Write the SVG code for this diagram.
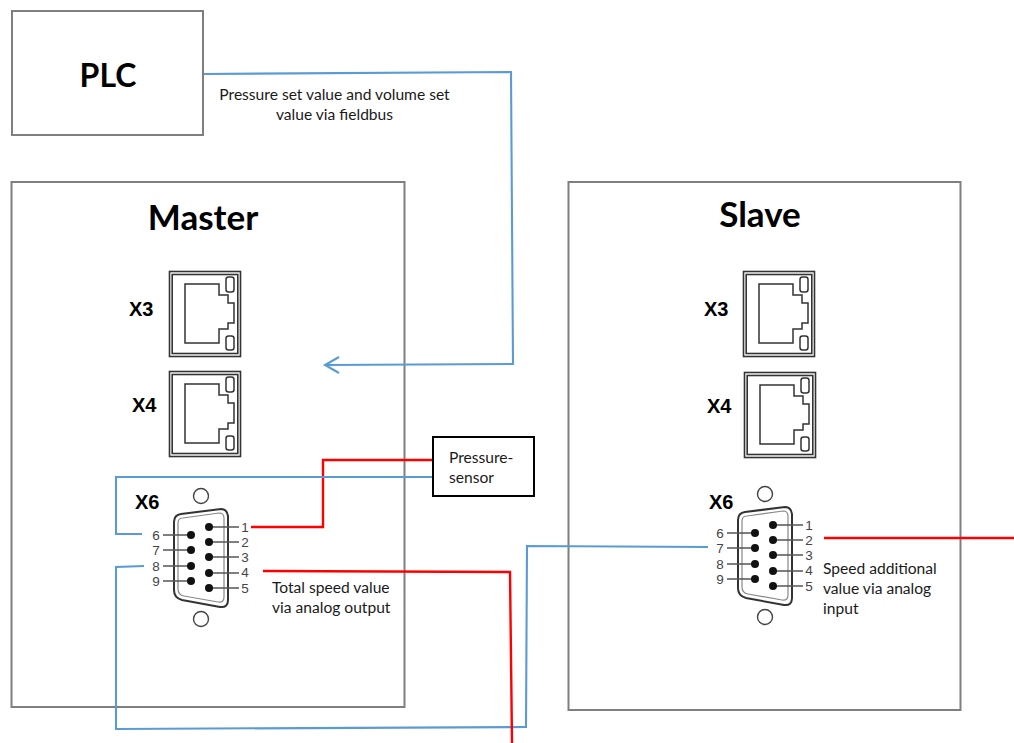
<svg xmlns="http://www.w3.org/2000/svg" width="1014" height="743" viewBox="0 0 1014 743">
<style>
.box{fill:#fff;stroke:#7f7f7f;stroke-width:2}
.sensor{fill:#fff;stroke:#000;stroke-width:2}
.blue{fill:none;stroke:#5b9bd5;stroke-width:2.1;stroke-linejoin:miter}
.red{fill:none;stroke:#f00;stroke-width:2.4}
.t{font-family:Lato,"Open Sans",sans-serif;font-size:15.6px;fill:#1a1a1a}
.b{font-family:Lato,"Open Sans",sans-serif;font-weight:700;fill:#000}
.l{font-family:"Liberation Sans",Arial,sans-serif;font-weight:700;font-size:20px;fill:#000}
.n{font-family:"Liberation Sans",Arial,sans-serif;font-size:13.500px;fill:#444;text-anchor:middle}
.jo{fill:none;stroke:#333;stroke-width:1.6}
.ji{fill:none;stroke:#333;stroke-width:1.5}
.sh{fill:none;stroke:#333;stroke-width:2}
.si{fill:none;stroke:#888;stroke-width:1.2}
.w{stroke:#555;stroke-width:1.3;fill:none}
.p{fill:#111}
.hole{fill:none;stroke:#444;stroke-width:1.4}
</style>
<defs>
<g id="jack">
<rect class="jo" x="0.500" y="0.500" width="71" height="85"/>
<rect class="jo" x="3.200" y="3.500" width="65.600" height="79"/>
<path class="ji" d="M16 13H50V24H59V32H65V52H59V58H50V72H16Z"/>
<rect class="ji" x="57" y="6" width="8" height="15" rx="2.500"/>
<rect class="ji" x="57" y="65" width="8" height="14" rx="2.500"/>
</g>
<g id="dsub">
<path class="sh" d="M174 522Q174 515 181 514L221 509Q227 509 228 516L228 600Q228 608 220 607L182 600Q174 598 174 590Z"/>
<path class="si" d="M178 523Q178 518 183 518L219 513Q224 513 224 518L224 597Q224 603 218 602L184 596Q178 595 178 589Z"/>
<path class="w" d="M163 535H191M163 550H191M163 566H191M163 581H191M209 527H239M209 542H239M209 557H239M209 573H239M209 588H239"/>
<circle class="p" cx="191" cy="535" r="4"/><circle class="p" cx="191" cy="550" r="4"/><circle class="p" cx="191" cy="566" r="4"/><circle class="p" cx="191" cy="581" r="4"/>
<circle class="p" cx="209" cy="527" r="4"/><circle class="p" cx="209" cy="542" r="4"/><circle class="p" cx="209" cy="557" r="4"/><circle class="p" cx="209" cy="573" r="4"/><circle class="p" cx="209" cy="588" r="4"/>
<circle class="hole" cx="201" cy="496" r="7.500"/><circle class="hole" cx="201" cy="619" r="7.500"/>
<text class="n" x="245" y="532">1</text><text class="n" x="245" y="547">2</text><text class="n" x="245" y="562">3</text><text class="n" x="245" y="577">4</text><text class="n" x="245" y="593">5</text>
<text class="n" x="156" y="540">6</text><text class="n" x="156" y="555">7</text><text class="n" x="156" y="571">8</text><text class="n" x="156" y="586">9</text>
</g>
</defs>
<rect width="1014" height="743" fill="#fff"/>
<g id="plc">
<rect class="box" x="12" y="11" width="191" height="124"/>
<text class="b" x="108" y="87" font-size="32" text-anchor="middle">PLC</text>
</g>
<g id="master">
<rect class="box" x="11.500" y="182" width="393" height="525"/>
<text class="b" x="203" y="230" font-size="35" text-anchor="middle">Master</text>
<text class="l" x="129" y="316">X3</text>
<text class="l" x="132" y="412">X4</text>
<text class="l" x="135" y="509">X6</text>
<use href="#jack" x="169" y="271"/>
<use href="#jack" x="169" y="371"/>
<use href="#dsub"/>
</g>
<g id="slave">
<rect class="box" x="568.500" y="182" width="392" height="528"/>
<text class="b" x="760" y="227" font-size="35" text-anchor="middle">Slave</text>
<text class="l" x="704" y="316">X3</text>
<text class="l" x="707" y="413">X4</text>
<text class="l" x="709" y="509">X6</text>
<use href="#jack" x="743" y="271"/>
<use href="#jack" x="744" y="372"/>
<use href="#dsub" x="564" y="-2"/>
</g>
<g id="connectors">
<path class="blue" d="M204 74L511 72L513 364L325 365M339 357L325 365L339 373"/>
<path class="red" d="M434 460H323V527H251"/>
<path class="blue" d="M434 477H116V534H142"/>
<path class="blue" d="M144 566L116 567V729L526 727L527 546L708 547"/>
<path class="red" d="M263 571L510 572L512 743"/>
<path class="red" d="M824 538H1014"/>
</g>
<g id="pressure-sensor">
<rect class="sensor" x="433" y="437" width="101" height="59"/>
<text class="t" x="449" y="463">Pressure-</text>
<text class="t" x="449" y="483">sensor</text>
</g>
<g id="labels">
<text class="t" x="334.500" y="100" text-anchor="middle">Pressure set value and volume set</text>
<text class="t" x="334.500" y="120" text-anchor="middle">value via fieldbus</text>
<text class="t" x="272" y="593">Total speed value</text>
<text class="t" x="272" y="613">via analog output</text>
<text class="t" x="823" y="574">Speed additional</text>
<text class="t" x="823" y="594">value via analog</text>
<text class="t" x="823" y="614">input</text>
</g>
</svg>
